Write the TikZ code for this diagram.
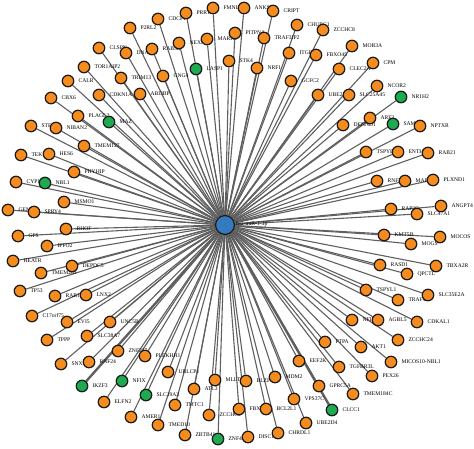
\documentclass[tikz,border=0pt]{standalone}
\usepackage{fontspec}
\setmainfont{Liberation Serif}
\pgfdeclarelayer{edges}
\pgfdeclarelayer{labels}
\pgfsetlayers{edges,labels,main}
\definecolor{mirblue}{RGB}{52,122,190}
\definecolor{geneorange}{RGB}{247,140,30}
\definecolor{genegreen}{RGB}{30,170,80}
\definecolor{edgegray}{RGB}{95,95,95}
\tikzset{
  gene/.style={circle, draw=black!90, line width=1.2pt, minimum size=11.5pt, inner sep=0pt},
  mirna/.style={circle, draw=black!90, fill=mirblue, line width=1.3pt, minimum size=19pt, inner sep=0pt},
  genelabel/.style={font=\fontsize{5.6}{6}\selectfont, inner sep=0pt, anchor=west},
  edge/.style={edgegray, line width=1.1pt},
  heavy edge/.style={edge, line width=2.4pt},
}
\begin{document}
\begin{tikzpicture}[x=1pt, y=-1pt]
    \useasboundingbox (0,0) rectangle (474,448);

    \node[mirna] (mir) at (225,225) {};
    \begin{pgfonlayer}{labels}
        \node[genelabel] (mirlab) at (236,224) {hsa-miR-1-3p};
    \end{pgfonlayer}

    % target genes: x/y/name/colour
    \foreach \px/\py/\gname/\gcol [count=\i] in {
        99/48/CLSPN/geneorange, 126/53/DNAJC5/geneorange, 130/28/P2RL2/geneorange,
        158/19/CDCP1/geneorange, 186/13/PRR11/geneorange, 213/8/FMNL2/geneorange,
        152/49/RAB5B/geneorange, 179/43/NEXN/geneorange, 207/39/MARK2/geneorange,
        235/33/PITPNA/geneorange, 244/8/ANKS1B/geneorange, 273/11/CRIPT/geneorange,
        264/38/TRAF3IP2/geneorange, 297/25/CHURC1/geneorange, 323/30/ZCCHC8/geneorange,
        352/46/MOB3A/geneorange, 289/53/ITGB1/geneorange, 316/55/FBXO45/geneorange,
        257/68/NRF1/geneorange, 229/61/STK4/geneorange, 196/69/LASP1/genegreen,
        339/69/CLEC2A/geneorange, 373/63/CPM/geneorange, 291/81/GCFC2/geneorange,
        318/95/UBE2H/geneorange, 349/95/SLC25A45/geneorange, 377/86/NCOR2/geneorange,
        401/97/NR1H2/genegreen, 343/125/DENND1/geneorange, 370/118/ARF3/geneorange,
        393/124/SAMD8/genegreen, 420/126/NPTXR/geneorange, 121/78/TRIM13/geneorange,
        163/76/GNG4/geneorange, 140/94/ABI3BP/geneorange, 84/67/TOR1AIP2/geneorange,
        68/81/CALR/geneorange, 99/95/CDKN1A/geneorange, 51/98/CBX6/geneorange,
        78/116/PLAGL2/geneorange, 109/122/MAZ/genegreen, 31/126/STEAP3/geneorange,
        56/128/NIBAN2/geneorange, 84/146/TMEM127/geneorange, 21/155/TEK/geneorange,
        49/154/HES6/geneorange, 74/172/PHYHIP/geneorange, 16/182/CYP1B1/geneorange,
        45/183/NBL1/genegreen, 64/202/MSMO1/geneorange, 8/210/GEM/geneorange,
        34/212/SPRY4/geneorange, 66/229/RHOF/geneorange, 18/236/GPS/geneorange,
        47/246/IFFO2/geneorange, 13/261/HEATR/geneorange, 72/266/DEPDC5/geneorange,
        41/273/TMEM263/geneorange, 20/291/TP53/geneorange, 55/296/RAB15/geneorange,
        86/295/LNX2/geneorange, 32/316/C17orf75/geneorange, 67/322/EVI5/geneorange,
        110/322/UNC5B/geneorange, 47/340/TPPP/geneorange, 87/336/SLC38A7/geneorange,
        61/364/SNX30/geneorange, 89/362/RNF24/geneorange, 82/386/IKZF3/genegreen,
        104/402/ELFN2/geneorange, 118/351/ZNF217/geneorange, 145/356/PLEKHH1/geneorange,
        122/381/NFIX/genegreen, 168/372/UBLCP1/geneorange, 215/380/MLLT6/geneorange,
        146/395/SLC19A3/genegreen, 194/389/ATL3/geneorange, 209/415/ZCCHC2/geneorange,
        175/405/TMTC1/geneorange, 131/417/AMER1/geneorange, 158/425/TMED10/geneorange,
        185/435/ZBTB41/geneorange, 218/439/ZNF451/genegreen, 248/437/DISC1/geneorange,
        239/409/FBXL5/geneorange, 266/409/BCL2L1/geneorange, 246/381/BLZF1/geneorange,
        275/377/MDM2/geneorange, 294/399/VPS37C/geneorange, 278/433/CHRDL1/geneorange,
        306/423/UBE2D4/geneorange, 332/410/CLCC1/genegreen, 319/386/GPRC5A/geneorange,
        299/361/EEF2K/geneorange, 325/342/PTPA/geneorange, 339/367/TGFBR3L/geneorange,
        353/394/TMEM184C/geneorange, 372/376/PEX26/geneorange, 391/362/MICOS10-NBL1/geneorange,
        361/347/AKT1/geneorange, 398/340/ZCCHC24/geneorange, 352/320/NFIB/geneorange,
        378/320/AGBL5/geneorange, 417/322/CDKAL1/geneorange, 398/300/TRAF4/geneorange,
        428/295/SLC35E2A/geneorange, 366/290/TSPYL1/geneorange, 380/265/RASD1/geneorange,
        407/274/QPCTL/geneorange, 436/266/TBXA2R/geneorange, 384/235/KMT5B/geneorange,
        411/244/MOGS/geneorange, 440/237/MOCOS/geneorange, 391/209/RAP2C/geneorange,
        417/214/SLC47A1/geneorange, 441/206/ANGPT4/geneorange, 377/181/RNF38/geneorange,
        405/181/MAP3K2/geneorange, 433/180/PLXND1/geneorange, 366/152/TSPYL4/geneorange,
        398/152/ENTHD1/geneorange, 428/153/RAB21/geneorange} {
        \node[gene, fill=\gcol] (g\i) at (\px,\py) {};
        \begin{pgfonlayer}{labels}
            \node[genelabel] (l\i) at ([xshift=4pt]g\i.east) {\gname};
        \end{pgfonlayer}
        \begin{pgfonlayer}{edges}
            \draw[edge] (mir) -- (g\i);
        \end{pgfonlayer}
    }

    % heavier links (IKZF3, CLCC1)
    \begin{pgfonlayer}{edges}
        \foreach \i in {69,92}
            \draw[heavy edge] (mir) -- (g\i);
    \end{pgfonlayer}
\end{tikzpicture}
\end{document}
